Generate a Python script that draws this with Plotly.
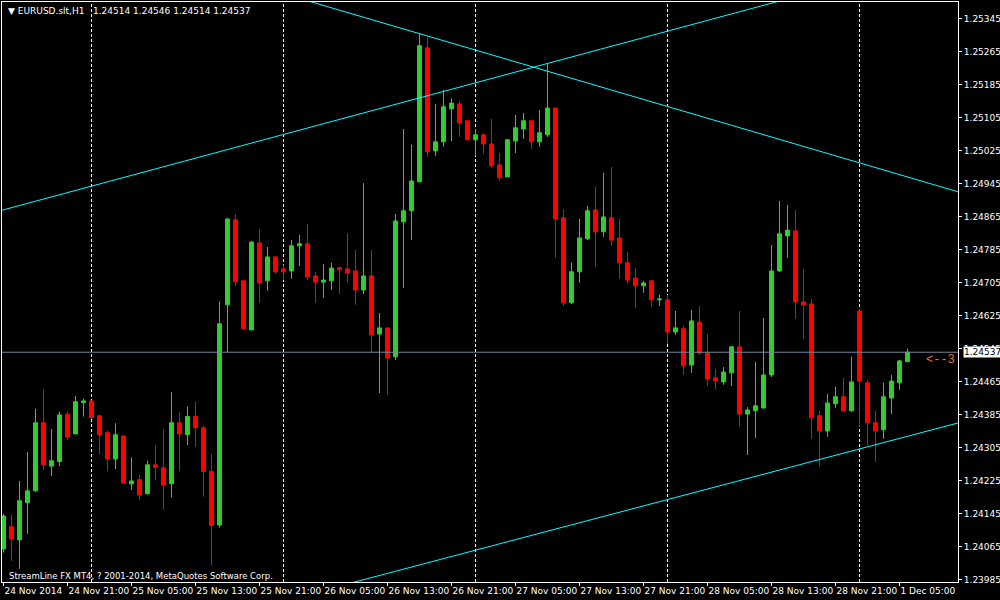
import plotly.graph_objects as go
import pandas as pd

# ---------------- data ----------------
symbol = "EURUSD.slt,H1"
bar_times = (list(pd.date_range("2014-11-24 13:00", "2014-11-28 23:00", freq="h"))
             + list(pd.date_range("2014-12-01 00:00", "2014-12-01 06:00", freq="h")))

open_ = [1.24060, 1.24114, 1.24082, 1.24172, 1.24201, 1.24366, 1.24261, 1.24272, 1.24387, 1.24339,
         1.24415, 1.24419, 1.24383, 1.24342, 1.24278, 1.24334, 1.24218, 1.24228, 1.24194, 1.24264,
         1.24257, 1.24218, 1.24366, 1.24337, 1.24381, 1.24354, 1.24248, 1.24118, 1.24652, 1.24858,
         1.24710, 1.24591, 1.24802, 1.24710, 1.24768, 1.24739, 1.24734, 1.24795, 1.24800, 1.24722,
         1.24707, 1.24710, 1.24742, 1.24739, 1.24734, 1.24688, 1.24722, 1.24581, 1.24596, 1.24526,
         1.24853, 1.24880, 1.24950, 1.25275, 1.25025, 1.25047, 1.25127, 1.25139, 1.25098, 1.25052,
         1.25064, 1.25042, 1.24991, 1.24962, 1.25049, 1.25078, 1.25098, 1.25047, 1.25064, 1.25129,
         1.24863, 1.24657, 1.24732, 1.24812, 1.24882, 1.24829, 1.24863, 1.24814, 1.24754, 1.24717,
         1.24698, 1.24710, 1.24664, 1.24664, 1.24586, 1.24594, 1.24506, 1.24610, 1.24535, 1.24475,
         1.24465, 1.24487, 1.24550, 1.24387, 1.24395, 1.24402, 1.24482, 1.24734, 1.24819, 1.24831,
         1.24659, 1.24654, 1.24383, 1.24346, 1.24412, 1.24429, 1.24395, 1.24637, 1.24463, 1.24366,
         1.24349, 1.24426, 1.24463, 1.24514]
high = [1.24145, 1.24143, 1.24225, 1.24295, 1.24400, 1.24446, 1.24351, 1.24393, 1.24393, 1.24431,
        1.24424, 1.24420, 1.24385, 1.24347, 1.24365, 1.24336, 1.24282, 1.24240, 1.24274, 1.24311,
        1.24349, 1.24441, 1.24391, 1.24405, 1.24417, 1.24358, 1.24290, 1.24660, 1.24863, 1.24872,
        1.24710, 1.24807, 1.24836, 1.24792, 1.24770, 1.24749, 1.24809, 1.24821, 1.24848, 1.24732,
        1.24751, 1.24754, 1.24744, 1.24825, 1.24785, 1.24947, 1.24785, 1.24632, 1.24597, 1.24872,
        1.25078, 1.25040, 1.25311, 1.25299, 1.25139, 1.25173, 1.25153, 1.25146, 1.25098, 1.25078,
        1.25068, 1.25103, 1.25020, 1.25053, 1.25112, 1.25117, 1.25100, 1.25124, 1.25236, 1.25130,
        1.24884, 1.24754, 1.24860, 1.24892, 1.24938, 1.24972, 1.24986, 1.24860, 1.24780, 1.24741,
        1.24710, 1.24712, 1.24676, 1.24676, 1.24637, 1.24601, 1.24640, 1.24649, 1.24581, 1.24497,
        1.24501, 1.24552, 1.24637, 1.24404, 1.24514, 1.24620, 1.24797, 1.24904, 1.24894, 1.24882,
        1.24739, 1.24666, 1.24395, 1.24436, 1.24453, 1.24475, 1.24526, 1.24642, 1.24470, 1.24395,
        1.24463, 1.24482, 1.24518, 1.24546]
low = [1.24051, 1.24031, 1.24012, 1.24097, 1.24199, 1.24252, 1.24237, 1.24261, 1.24324, 1.24339,
       1.24381, 1.24375, 1.24290, 1.24248, 1.24254, 1.24218, 1.24203, 1.24179, 1.24192, 1.24226,
       1.24155, 1.24185, 1.24248, 1.24312, 1.24308, 1.24187, 1.24020, 1.24112, 1.24537, 1.24698,
       1.24591, 1.24591, 1.24657, 1.24686, 1.24727, 1.24712, 1.24715, 1.24746, 1.24712, 1.24657,
       1.24669, 1.24688, 1.24678, 1.24707, 1.24652, 1.24678, 1.24536, 1.24438, 1.24434, 1.24518,
       1.24693, 1.24809, 1.24950, 1.25010, 1.25013, 1.25035, 1.25049, 1.25059, 1.25052, 1.25013,
       1.25018, 1.24984, 1.24952, 1.24962, 1.25020, 1.25054, 1.25030, 1.25035, 1.25059, 1.24766,
       1.24649, 1.24654, 1.24705, 1.24809, 1.24744, 1.24817, 1.24795, 1.24715, 1.24703, 1.24644,
       1.24681, 1.24647, 1.24649, 1.24557, 1.24579, 1.24482, 1.24487, 1.24530, 1.24455, 1.24446,
       1.24458, 1.24455, 1.24358, 1.24288, 1.24329, 1.24400, 1.24477, 1.24732, 1.24766, 1.24618,
       1.24569, 1.24327, 1.24261, 1.24332, 1.24402, 1.24392, 1.24393, 1.24356, 1.24312, 1.24271,
       1.24327, 1.24387, 1.24446, 1.24514]
close = [1.24140, 1.24084, 1.24177, 1.24201, 1.24366, 1.24264, 1.24274, 1.24385, 1.24331, 1.24417,
         1.24419, 1.24379, 1.24337, 1.24278, 1.24337, 1.24220, 1.24225, 1.24191, 1.24264, 1.24258,
         1.24215, 1.24366, 1.24339, 1.24381, 1.24354, 1.24248, 1.24117, 1.24606, 1.24860, 1.24708,
         1.24594, 1.24804, 1.24705, 1.24768, 1.24732, 1.24732, 1.24795, 1.24800, 1.24720, 1.24707,
         1.24712, 1.24741, 1.24737, 1.24729, 1.24688, 1.24722, 1.24579, 1.24596, 1.24523, 1.24855,
         1.24880, 1.24952, 1.25280, 1.25023, 1.25047, 1.25132, 1.25141, 1.25093, 1.25052, 1.25064,
         1.25042, 1.24989, 1.24960, 1.25052, 1.25081, 1.25098, 1.25047, 1.25069, 1.25129, 1.24860,
         1.24657, 1.24732, 1.24814, 1.24880, 1.24829, 1.24865, 1.24809, 1.24754, 1.24712, 1.24698,
         1.24705, 1.24664, 1.24666, 1.24586, 1.24596, 1.24504, 1.24613, 1.24535, 1.24472, 1.24467,
         1.24489, 1.24550, 1.24387, 1.24397, 1.24407, 1.24482, 1.24734, 1.24824, 1.24833, 1.24659,
         1.24652, 1.24378, 1.24346, 1.24414, 1.24429, 1.24395, 1.24465, 1.24467, 1.24366, 1.24346,
         1.24429, 1.24467, 1.24516, 1.24537]

y_tick_values = [1.25345, 1.25265, 1.25185, 1.25105, 1.25025, 1.24945, 1.24865, 1.24785, 1.24705,
                 1.24625, 1.24545, 1.24465, 1.24385, 1.24305, 1.24225, 1.24145, 1.24065, 1.23985]
x_tick_times = ["2014-11-24 13:00", "2014-11-24 21:00", "2014-11-25 05:00", "2014-11-25 13:00",
                "2014-11-25 21:00", "2014-11-26 05:00", "2014-11-26 13:00", "2014-11-26 21:00",
                "2014-11-27 05:00", "2014-11-27 13:00", "2014-11-27 21:00", "2014-11-28 05:00",
                "2014-11-28 13:00", "2014-11-28 21:00", "2014-12-01 05:00"]
x_tick_labels = ["24 Nov 2014", "24 Nov 21:00", "25 Nov 05:00", "25 Nov 13:00", "25 Nov 21:00",
                 "26 Nov 05:00", "26 Nov 13:00", "26 Nov 21:00", "27 Nov 05:00", "27 Nov 13:00",
                 "27 Nov 21:00", "28 Nov 05:00", "28 Nov 13:00", "28 Nov 21:00", "1 Dec 05:00"]

# trend lines: (bar index, price) end points
trend_lines = [
    ([-1, 100], [1.24877, 1.25404]),
    ([38, 120], [1.25389, 1.24922]),
    ([40, 120], [1.23960, 1.24369]),
]
arrow_label = "<--3"
arrow_price = 1.24518
copyright_text = "StreamLine FX MT4, ? 2001-2014, MetaQuotes Software Corp."

# ---------------- figure ----------------
bars = list(range(len(bar_times)))
FONT = "DejaVu Sans"

fig = go.Figure()
fig.add_trace(go.Candlestick(
    x=bars, open=open_, high=high, low=low, close=close,
    increasing=dict(line=dict(color="#32CD32", width=1), fillcolor="#32CD32"),
    decreasing=dict(line=dict(color="#FF0000", width=1), fillcolor="#FF0000"),
    showlegend=False, hoverinfo="skip",
))

shapes = []
# day separators
for i, t in enumerate(bar_times):
    if t.hour == 0:
        shapes.append(dict(type="line", xref="x", yref="paper", x0=i, x1=i, y0=0, y1=1,
                           line=dict(color="white", width=1, dash="3px,2px"), layer="below"))
# bid line
shapes.append(dict(type="line", xref="paper", yref="y", x0=0, x1=1, y0=close[-1], y1=close[-1],
                   line=dict(color="#778899", width=1), layer="above"))
# trend lines
for xs, ps in trend_lines:
    shapes.append(dict(type="line", xref="x", yref="y", x0=xs[0], x1=xs[1], y0=ps[0], y1=ps[1],
                       line=dict(color="#00FFFF", width=1), layer="above"))

tick_pos = [bar_times.index(pd.Timestamp(t)) for t in x_tick_times]

annotations = [
    dict(xref="paper", yref="paper", x=0.004, y=0.985, xanchor="left", yanchor="middle",
         text="▼ " + symbol, showarrow=False, font=dict(family=FONT, size=9, color="white")),
    dict(xref="paper", yref="paper", x=0.093, y=0.985, xanchor="left", yanchor="middle",
         text=f"{open_[-1]:.5f} {high[-1]:.5f} {low[-1]:.5f} {close[-1]:.5f}", showarrow=False,
         font=dict(family=FONT, size=9, color="white")),
    dict(xref="paper", yref="paper", x=0.005, y=0.011, xanchor="left", yanchor="middle",
         text=copyright_text, showarrow=False, font=dict(family=FONT, size=8.5, color="white")),
    dict(xref="paper", yref="y", x=1.0052, y=close[-1], xanchor="left", yanchor="middle",
         text=f"{close[-1]:.5f}", showarrow=False, bgcolor="white", borderpad=0,
         font=dict(family=FONT, size=9, color="black")),
    dict(xref="paper", yref="y", x=0.9645, y=arrow_price, xanchor="left", yanchor="middle",
         text=arrow_label.replace("<", "&lt;"), showarrow=False,
         font=dict(family="Liberation Mono", size=12, color="#E8772E")),
]

fig.update_layout(
    width=1000, height=600,
    margin=dict(l=2, r=42, t=2, b=18, autoexpand=False),
    paper_bgcolor="black", plot_bgcolor="black",
    shapes=shapes, annotations=annotations,
    showlegend=False,
    xaxis=dict(range=[-0.1875, 119.3125], rangeslider=dict(visible=False), showgrid=False,
               zeroline=False, showline=True, linecolor="white", linewidth=1, mirror=True,
               ticks="outside", ticklen=3, tickcolor="white", tickvals=tick_pos,
               ticktext=x_tick_labels, ticklabelposition="outside right", tickangle=0,
               automargin=False,
               tickfont=dict(family=FONT, size=9, color="white")),
    yaxis=dict(range=[1.23980, 1.25386], side="right", showgrid=False, zeroline=False,
               showline=True, linecolor="white", linewidth=1, mirror=True,
               ticks="outside", ticklen=3, tickcolor="white", tickvals=y_tick_values,
               ticktext=[f"{v:.5f}" for v in y_tick_values], automargin=False,
               tickfont=dict(family=FONT, size=9, color="white")),
)

fig.write_html("out.html", config={"displayModeBar": False},
               post_script="document.body.style.margin='0';document.body.style.overflow='hidden';")
